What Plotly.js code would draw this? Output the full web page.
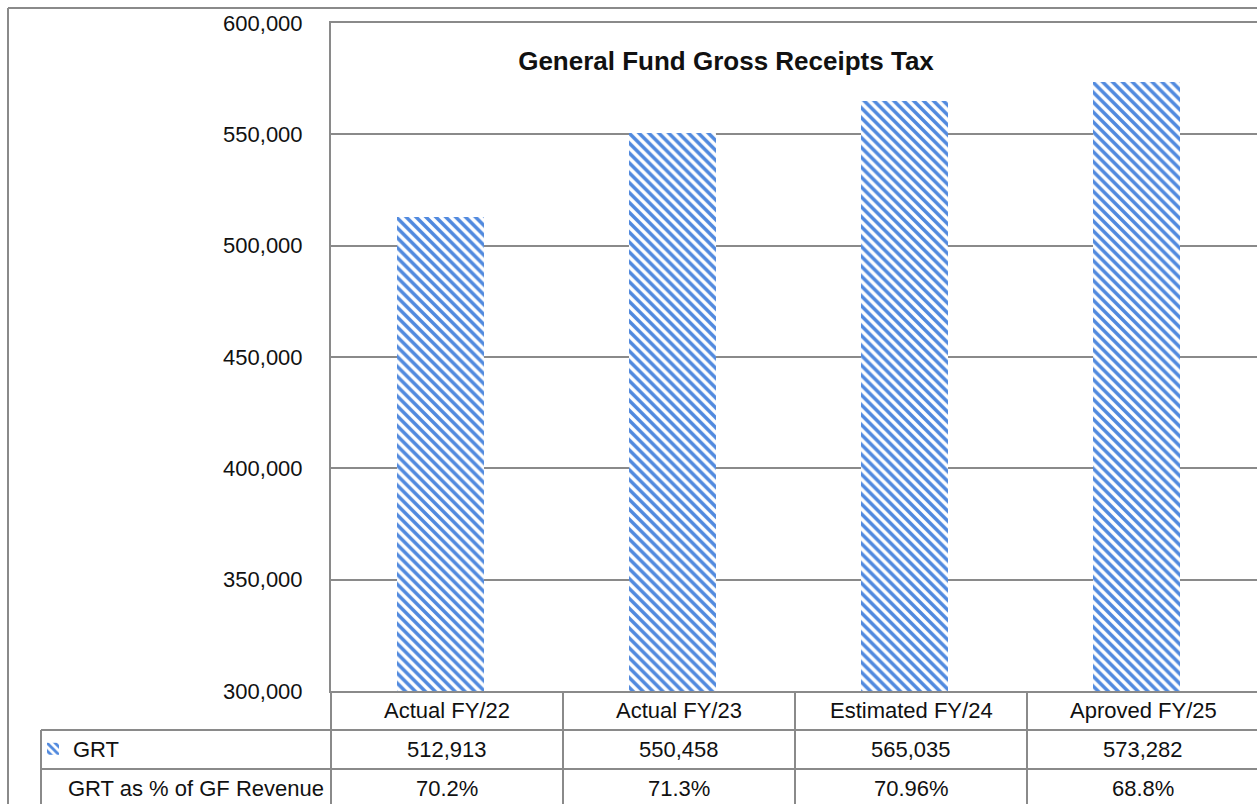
<!DOCTYPE html>
<html>
<head>
<meta charset="utf-8">
<script src="https://cdn.plot.ly/plotly-3.0.1.min.js"></script>
<style>
html, body { margin: 0; padding: 0; overflow: hidden; background: #fff; }
#chart { width: 1265px; height: 812px; }
</style>
</head>
<body>
<div id="chart"></div>
<script>
// ---- data ----
var categories = ['Actual FY/22', 'Actual FY/23', 'Estimated FY/24', 'Aproved FY/25'];
var grtValues = [512913, 550458, 565035, 573282];
var grtPctOfRevenue = [70.2, 71.3, 70.96, 68.8];
var seriesName = 'GRT';
var pctRowLabel = 'GRT as % of GF Revenue';
var chartTitle = 'General Fund Gross Receipts Tax';
var yRange = [300000, 600000];
var yStep = 50000;

// ---- layout helpers (pixel -> paper) ----
var W = 1265, H = 812;
var L = 331, R = 1259, T = 23, B = 691;
function px(p) { return (p - L) / (R - L); }
function py(p) { return (B - p) / (B - T); }

var FONT = "'Liberation Sans', Arial, sans-serif";
var FS = 22;
var GRAY = '#8a8a8a';
var TXT = '#111111';
var BLUE = '#5089de';

// bars rise from the axis floor (300,000) to each value
var trace = {
  type: 'bar',
  x: categories,
  y: grtValues.map(function (v) { return v - yRange[0]; }),
  name: seriesName,
  width: 0.375,
  offset: -0.2134,
  marker: {
    color: '#ffffff',
    line: { width: 0 },
    pattern: { shape: '\\', fgcolor: BLUE, bgcolor: '#ffffff', fgopacity: 1, size: 7, solidity: 0.5, fillmode: 'overlay' }
  },
  hoverinfo: 'skip'
};

var annotations = [];
var rowCat = py(710), rowGrt = py(749), rowPct = py(788);
function txt(x, xref, y, s, anchor) {
  return { x: x, xref: xref, y: y, yref: 'paper', text: s, showarrow: false,
    xanchor: anchor, yanchor: 'middle', font: { family: FONT, size: FS, color: TXT } };
}
categories.forEach(function (c, i) {
  annotations.push(txt(i, 'x', rowCat, c, 'center'));
  annotations.push(txt(i, 'x', rowGrt, grtValues[i].toLocaleString('en-US'), 'center'));
  annotations.push(txt(i, 'x', rowPct, grtPctOfRevenue[i] + '%', 'center'));
});
annotations.push(txt(px(66), 'paper', rowPct, pctRowLabel, 'left'));

var ln = { color: GRAY, width: 2 };
var shapes = [
  // outer frame
  { type: 'line', xref: 'paper', yref: 'paper', x0: px(8), x1: px(1264), y0: py(8), y1: py(8), line: ln },
  { type: 'line', xref: 'paper', yref: 'paper', x0: px(8), x1: px(8), y0: py(8), y1: py(812), line: ln },
  // table horizontal lines
  { type: 'line', xref: 'paper', yref: 'paper', x0: px(41), x1: px(1264), y0: py(730), y1: py(730), line: ln },
  { type: 'line', xref: 'paper', yref: 'paper', x0: px(41), x1: px(1264), y0: py(769), y1: py(769), line: ln },
  // table vertical lines
  { type: 'line', xref: 'paper', yref: 'paper', x0: px(41), x1: px(41), y0: py(730), y1: py(812), line: ln },
  { type: 'line', xref: 'paper', yref: 'paper', x0: 0, x1: 0, y0: 0, y1: py(812), line: ln }
];
for (var k = 0; k < categories.length; k++) {
  shapes.push({ type: 'line', xref: 'x', yref: 'paper', x0: k + 0.5, x1: k + 0.5, y0: 0, y1: py(812), line: ln });
}

var tickIdx = [0, 1, 2, 3, 4, 5, 6];
var layout = {
  width: W, height: H,
  margin: { l: L, r: W - R, t: T, b: H - B, pad: 0 },
  paper_bgcolor: '#ffffff', plot_bgcolor: '#ffffff',
  title: {
    text: '<b>' + chartTitle + '</b>',
    x: 726 / W, xref: 'container', xanchor: 'center',
    y: 1 - 61 / H, yref: 'container', yanchor: 'middle',
    font: { family: FONT, size: 26, color: TXT }
  },
  showlegend: true,
  legend: {
    x: px(33), xanchor: 'left', y: rowGrt, yanchor: 'middle',
    bgcolor: 'rgba(0,0,0,0)', borderwidth: 0,
    font: { family: FONT, size: FS, color: TXT },
    itemwidth: 30
  },
  xaxis: {
    type: 'category', range: [-0.5, categories.length - 0.5],
    showticklabels: false, ticks: '', showgrid: false, zeroline: false,
    showline: true, mirror: true, linecolor: GRAY, linewidth: 2, fixedrange: true
  },
  yaxis: {
    range: [0, yRange[1] - yRange[0]],
    tickmode: 'array',
    tickvals: tickIdx.map(function (i) { return i * yStep; }),
    ticktext: tickIdx.map(function (i) { return (yRange[0] + i * yStep).toLocaleString('en-US'); }),
    ticks: '', ticklabelstandoff: 22,
    tickfont: { family: FONT, size: FS, color: TXT },
    showgrid: true, gridcolor: GRAY, gridwidth: 2, zeroline: false,
    showline: true, mirror: true, linecolor: GRAY, linewidth: 2, fixedrange: true
  },
  annotations: annotations,
  shapes: shapes,
  bargap: 0
};

Plotly.newPlot('chart', [trace], layout, { staticPlot: true, displayModeBar: false });
</script>
</body>
</html>
